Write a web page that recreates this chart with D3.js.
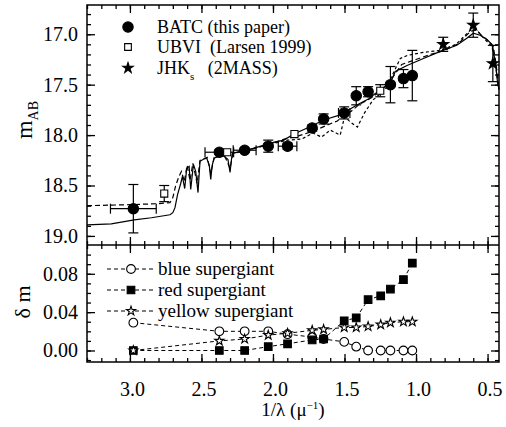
<!DOCTYPE html>
<html>
<head>
<meta charset="utf-8">
<script src="https://cdn.jsdelivr.net/npm/d3@7"></script>
<style>
  body { margin: 0; background: #fff; }
  svg text { font-family: "Liberation Serif", "Times New Roman", serif; fill: #000; }
</style>
</head>
<body>
<svg id="grafico" width="506" height="427"></svg>
<script>
// Fotometria BATC (1/lambda, magnitud, error)
const batcX = [2.976, 2.375, 2.198, 2.033, 1.898, 1.726, 1.646, 1.502, 1.418, 1.335, 1.179, 1.088, 1.026];
const batcMag = [18.73, 18.17, 18.15, 18.11, 18.11, 17.93, 17.84, 17.78, 17.61, 17.57, 17.50, 17.44, 17.41];
const batcErr = [0.24, 0.02, 0.02, 0.06, 0.03, 0.03, 0.05, 0.06, 0.09, 0.05, 0.18, 0.09, 0.25];
const batcErrX = [0.16, 0.10, 0.08, 0, 0.065, 0, 0, 0.04, 0, 0, 0, 0, 0];

const ubviX = [2.76, 2.32, 1.85, 1.25];
const ubviMag = [18.58, 18.17, 17.99, 17.56];
const ubviErr = [0.08, 0, 0, 0.06];

const masX = [0.81, 0.60, 0.463];
const masMag = [17.10, 16.91, 17.29];
const masErr = [0.07, 0.12, 0.18];

// Espectros de los modelos [1/lambda, m_AB]
const espectroContinuo = [[3.30,18.89],[3.13,18.88],[2.97,18.84],[2.85,18.82],[2.72,18.79],[2.70,18.77],[2.685,18.72],[2.667,18.59],[2.645,18.48],[2.633,18.41],[2.617,18.53],[2.603,18.33],[2.586,18.31],[2.575,18.54],[2.556,18.29],[2.54,18.36],[2.524,18.57],[2.51,18.26],[2.486,18.24],[2.463,18.23],[2.445,18.30],[2.435,18.44],[2.425,18.30],[2.412,18.23],[2.377,18.21],[2.342,18.21],[2.315,18.24],[2.30,18.37],[2.29,18.24],[2.284,18.18],[2.226,18.16],[2.156,18.14],[2.133,18.13],[2.06,18.10],[1.99,18.07],[1.924,18.05],[1.854,17.99],[1.76,17.93],[1.645,17.85],[1.53,17.80],[1.41,17.70],[1.33,17.64],[1.296,17.60],[1.18,17.48],[1.16,17.42],[1.145,17.37],[1.063,17.31],[0.948,17.24],[0.83,17.17],[0.715,17.11],[0.645,17.04],[0.60,16.99],[0.552,17.01],[0.506,17.05],[0.47,17.10],[0.455,17.20],[0.44,17.35],[0.43,17.48],[0.42,17.55]];
const espectroGuiones = [[3.30,18.70],[3.0,18.69],[2.80,18.68],[2.72,18.67],[2.70,18.62],[2.68,18.50],[2.66,18.42],[2.64,18.36],[2.62,18.46],[2.60,18.30],[2.58,18.45],[2.56,18.28],[2.53,18.48],[2.51,18.25],[2.46,18.22],[2.435,18.38],[2.41,18.22],[2.34,18.20],[2.30,18.33],[2.28,18.18],[2.20,18.16],[2.10,18.12],[2.00,18.08],[1.90,18.03],[1.85,18.02],[1.78,17.99],[1.70,17.95],[1.62,17.90],[1.55,17.86],[1.50,17.80],[1.45,17.76],[1.40,17.70],[1.30,17.62],[1.20,17.50],[1.15,17.40],[1.10,17.30],[1.00,17.25],[0.90,17.20],[0.80,17.16],[0.70,17.09],[0.62,16.97],[0.58,16.96],[0.55,17.00],[0.50,17.06],[0.46,17.12],[0.44,17.30],[0.42,17.55]];
const espectroPuntos = [[2.28,18.18],[2.10,18.12],[1.90,18.05],[1.80,18.04],[1.72,17.98],[1.66,18.02],[1.60,17.95],[1.53,18.00],[1.50,17.82],[1.45,17.88],[1.41,17.92],[1.36,17.78],[1.30,17.65],[1.25,17.59],[1.20,17.52],[1.18,17.45],[1.11,17.24],[1.06,17.21],[0.95,17.18],[0.83,17.16],[0.72,17.10],[0.62,16.96],[0.58,16.95],[0.52,17.05],[0.47,17.12],[0.45,17.25],[0.42,17.55]];

// Panel inferior: delta m por tipo de supergigante
const deltaX = [2.976, 2.375, 2.198, 2.033, 1.898, 1.726, 1.646, 1.502, 1.418, 1.335, 1.247, 1.179, 1.088, 1.026];
const deltaAzul = [0.029, 0.020, 0.020, 0.020, 0.017, 0.014, 0.012, 0.009, 0.004, 0, 0, 0, 0, 0];
const deltaRoja = [0, 0, 0, 0.004, 0.007, 0.011, 0.012, 0.031, 0.034, 0.053, 0.057, 0.064, 0.074, 0.091];
const deltaAmarilla = [0, 0.010, 0.012, 0.016, 0.018, 0.021, 0.022, 0.024, 0.024, 0.025, 0.027, 0.029, 0.030, 0.030];

const marcasX = [3.0, 2.5, 2.0, 1.5, 1.0, 0.5];
const marcasMag = [17.0, 17.5, 18.0, 18.5, 19.0];
const marcasDelta = [0.00, 0.04, 0.08];

const svg = d3.select('#grafico');
const izq = 87, der = 499, arriba = 5, medio = 245, abajo = 362;
const fuente = '"Liberation Serif", "Times New Roman", serif';

const escalaX = d3.scaleLinear().domain([3.3, 0.42]).range([izq, der]);
const escalaMag = d3.scaleLinear().domain([16.71, 19.09]).range([arriba, medio]);
const escalaDelta = d3.scaleLinear().domain([-0.012, 0.11]).range([abajo, medio]);

const menoresX = d3.range(5, 34).map(d => d / 10);
const menoresMag = d3.range(168, 191).map(d => d / 10);
const menoresDelta = d3.range(-1, 11).map(d => d / 100);

function dibujarEje(generador, transform, valores, largo, decimales, relleno) {
    const g = svg.append('g').attr('transform', transform)
        .call(generador.tickValues(valores).tickSizeInner(-largo).tickSizeOuter(0)
            .tickPadding(relleno || 3)
            .tickFormat(decimales ? d3.format('.' + decimales + 'f') : ''));
    g.attr('font-family', fuente).attr('font-size', 20);
    g.select('.domain').remove();
    g.selectAll('line').attr('stroke', '#000').attr('stroke-width', 1.3);
    return g;
}

// ejes horizontales (marcas hacia dentro)
[[arriba, d3.axisTop], [medio, d3.axisBottom], [medio, d3.axisTop], [abajo, d3.axisBottom]].forEach(([y, eje], i) => {
    const g = dibujarEje(eje(escalaX), `translate(0,${y})`, marcasX, 8, i === 3 ? 1 : 0, 20);
    if (i === 3) g.selectAll('text').attr('y', 20).attr('dy', '0.71em').attr('dx', 2);
    dibujarEje(eje(escalaX), `translate(0,${y})`, menoresX, 4, 0);
});
// ejes verticales
dibujarEje(d3.axisLeft(escalaMag), `translate(${izq},0)`, marcasMag, 8, 1, 9);
dibujarEje(d3.axisLeft(escalaMag), `translate(${izq},0)`, menoresMag, 4, 0);
dibujarEje(d3.axisRight(escalaMag), `translate(${der},0)`, marcasMag, 8, 0);
dibujarEje(d3.axisRight(escalaMag), `translate(${der},0)`, menoresMag, 4, 0);
dibujarEje(d3.axisLeft(escalaDelta), `translate(${izq},0)`, marcasDelta, 8, 2, 9);
dibujarEje(d3.axisLeft(escalaDelta), `translate(${izq},0)`, menoresDelta, 4, 0);
dibujarEje(d3.axisRight(escalaDelta), `translate(${der},0)`, marcasDelta, 8, 0);
dibujarEje(d3.axisRight(escalaDelta), `translate(${der},0)`, menoresDelta, 4, 0);

svg.append('rect').attr('x', izq).attr('y', arriba).attr('width', der - izq).attr('height', abajo - arriba)
    .attr('fill', 'none').attr('stroke', '#000').attr('stroke-width', 1.5);
svg.append('line').attr('x1', izq).attr('x2', der).attr('y1', medio).attr('y2', medio)
    .attr('stroke', '#000').attr('stroke-width', 1.5);

// espectros
const panelSuperior = svg.append('g');
const lineaEspectro = d3.line().x(d => escalaX(d[0])).y(d => escalaMag(d[1]));
[[espectroGuiones, '5,3'], [espectroPuntos, '3,2.5'], [espectroContinuo, null]].forEach(([datos, guion]) => {
    panelSuperior.append('path').attr('d', lineaEspectro(datos))
        .attr('fill', 'none').attr('stroke', '#000').attr('stroke-width', 1.2)
        .attr('stroke-dasharray', guion);
});

function barrasError(xs, ys, errY, errX) {
    const g = panelSuperior.append('g').attr('stroke', '#000').attr('stroke-width', 1.2);
    xs.forEach((x, i) => {
        const cx = escalaX(x), cy = escalaMag(ys[i]);
        if (errY[i] > 0) {
            const y1 = escalaMag(ys[i] - errY[i]), y2 = escalaMag(ys[i] + errY[i]);
            g.append('line').attr('x1', cx).attr('x2', cx).attr('y1', y1).attr('y2', y2);
            [y1, y2].forEach(yy => g.append('line').attr('x1', cx - 5).attr('x2', cx + 5).attr('y1', yy).attr('y2', yy));
        }
        if (errX && errX[i] > 0) {
            const x1 = escalaX(x - errX[i]), x2 = escalaX(x + errX[i]);
            g.append('line').attr('x1', x1).attr('x2', x2).attr('y1', cy).attr('y2', cy);
            [x1, x2].forEach(xx => g.append('line').attr('x1', xx).attr('x2', xx).attr('y1', cy - 5).attr('y2', cy + 5));
        }
    });
}
barrasError(batcX, batcMag, batcErr, batcErrX);
barrasError(ubviX, ubviMag, ubviErr, null);
barrasError(masX, masMag, masErr, null);

const circulo = d3.symbol().type(d3.symbolCircle);
const cuadrado = d3.symbol().type(d3.symbolSquare);
const estrella = d3.symbol().type(d3.symbolStar);

function marcadores(grupo, xs, ys, escalaY, simbolo, tam, relleno) {
    grupo.selectAll(null).data(xs).enter().append('path')
        .attr('d', simbolo.size(tam)())
        .attr('transform', (d, i) => `translate(${escalaX(d)},${escalaY(ys[i])})`)
        .attr('fill', relleno).attr('stroke', '#000').attr('stroke-width', 1.1);
}
marcadores(panelSuperior, batcX, batcMag, escalaMag, circulo, 85, '#000');
marcadores(panelSuperior, ubviX, ubviMag, escalaMag, cuadrado, 50, '#fff');
marcadores(panelSuperior, masX, masMag, escalaMag, estrella, 38, '#000');

// leyenda superior
const leyendaSup = [
    ['BATC (this paper)', circulo, 85, '#000', 27],
    ['UBVI  (Larsen 1999)', cuadrado, 45, '#fff', 47],
    ['JHK', estrella, 34, '#000', 68]
];
leyendaSup.forEach(([texto, simbolo, tam, relleno, y]) => {
    svg.append('path').attr('d', simbolo.size(tam)()).attr('transform', `translate(128,${y})`)
        .attr('fill', relleno).attr('stroke', '#000').attr('stroke-width', 1.1);
    const t = svg.append('text').attr('x', 157).attr('y', y + 6).style('font-size', '18px').style('white-space', 'pre');
    t.append('tspan').text(texto);
    if (texto === 'JHK') {
        t.append('tspan').attr('dy', 6).style('font-size', '11px').text('s');
        t.append('tspan').attr('dy', -6).text('   (2MASS)');
    }
});

// panel inferior
const panelInferior = svg.append('g');
const lineaDelta = d3.line();
const seriesDelta = [
    ['blue supergiant', deltaAzul, circulo, 60, '#fff', 269],
    ['red supergiant', deltaRoja, cuadrado, 58, '#000', 290],
    ['yellow supergiant', deltaAmarilla, estrella, 26, '#fff', 311]
];
seriesDelta.forEach(([nombre, valores, simbolo, tam, relleno, yLeyenda]) => {
    panelInferior.append('path')
        .attr('d', lineaDelta(deltaX.map((x, i) => [escalaX(x), escalaDelta(valores[i])])))
        .attr('fill', 'none').attr('stroke', '#000').attr('stroke-width', 1).attr('stroke-dasharray', '4,3');
    marcadores(panelInferior, deltaX, valores, escalaDelta, simbolo, tam, relleno);

    panelInferior.append('line').attr('x1', 107).attr('x2', 155).attr('y1', yLeyenda).attr('y2', yLeyenda)
        .attr('stroke', '#000').attr('stroke-width', 1).attr('stroke-dasharray', '4,3');
    panelInferior.append('path').attr('d', simbolo.size(tam)()).attr('transform', `translate(131,${yLeyenda})`)
        .attr('fill', relleno).attr('stroke', '#000').attr('stroke-width', 1.1);
    panelInferior.append('text').attr('x', 158).attr('y', yLeyenda + 6).style('font-size', '19px').text(nombre);
});

// titulos de ejes
const tituloX = svg.append('text').attr('x', 293).attr('y', 416).attr('text-anchor', 'middle').style('font-size', '19px');
tituloX.append('tspan').text('1/λ (μ');
tituloX.append('tspan').attr('dy', -7).style('font-size', '11px').text('−1');
tituloX.append('tspan').attr('dy', 7).text(')');

const tituloMag = svg.append('text').attr('transform', 'translate(32,120) rotate(-90)').attr('text-anchor', 'middle').style('font-size', '24px');
tituloMag.append('tspan').text('m');
tituloMag.append('tspan').attr('dy', 6).style('font-size', '14px').text('AB');

svg.append('text').attr('transform', 'translate(30,302) rotate(-90)').attr('text-anchor', 'middle')
    .style('font-size', '22px').text('δ m');
</script>
</body>
</html>
